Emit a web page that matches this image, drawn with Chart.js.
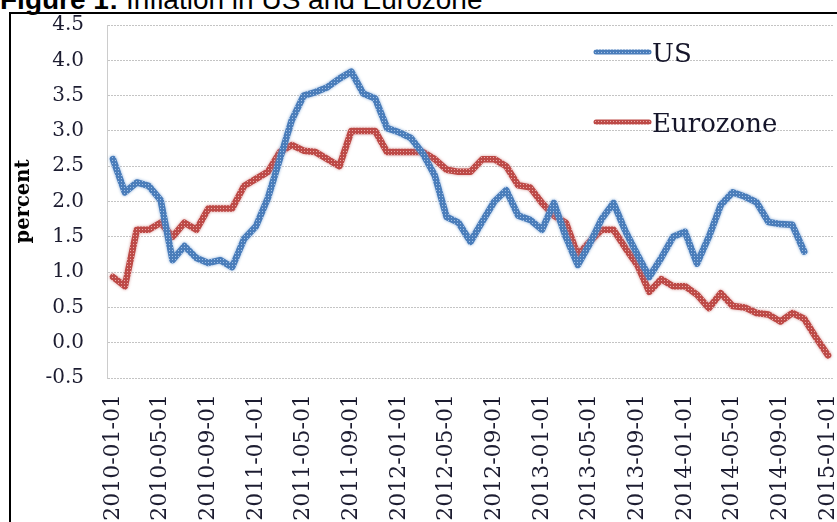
<!DOCTYPE html>
<html>
<head>
<meta charset="utf-8">
<script src="https://cdn.jsdelivr.net/npm/chart.js@4.4.1/dist/chart.umd.min.js"></script>
<style>
html, body { margin: 0; padding: 0; overflow: hidden; background: #fff; width: 837px; height: 522px; }
#title { position: absolute; left: 0; top: -14px; font-family: 'Liberation Sans', Arial, sans-serif; font-size: 28px; line-height: 28px; white-space: nowrap; color: #000; }
#frame { position: absolute; left: 9px; top: 12px; width: 900px; height: 600px; border-left: 2px solid #000; border-top: 2px solid #000; }
#wrap { position: absolute; left: 0; top: 0; width: 837px; height: 560px; }
</style>
</head>
<body>
<div id="title"><b>Figure 1:</b> Inflation in US and Eurozone</div>
<div id="frame"></div>
<div id="wrap"><canvas id="inflationChart"></canvas></div>
<script>
// months, 2010-01 .. 2015-01
const months = [
  '2010-01-01','2010-02-01','2010-03-01','2010-04-01','2010-05-01','2010-06-01','2010-07-01','2010-08-01','2010-09-01','2010-10-01','2010-11-01','2010-12-01',
  '2011-01-01','2011-02-01','2011-03-01','2011-04-01','2011-05-01','2011-06-01','2011-07-01','2011-08-01','2011-09-01','2011-10-01','2011-11-01','2011-12-01',
  '2012-01-01','2012-02-01','2012-03-01','2012-04-01','2012-05-01','2012-06-01','2012-07-01','2012-08-01','2012-09-01','2012-10-01','2012-11-01','2012-12-01',
  '2013-01-01','2013-02-01','2013-03-01','2013-04-01','2013-05-01','2013-06-01','2013-07-01','2013-08-01','2013-09-01','2013-10-01','2013-11-01','2013-12-01',
  '2014-01-01','2014-02-01','2014-03-01','2014-04-01','2014-05-01','2014-06-01','2014-07-01','2014-08-01','2014-09-01','2014-10-01','2014-11-01','2014-12-01',
  '2015-01-01'
];

// labels that are printed on the x axis
const shownLabels = [
  '2010-01-01','2010-05-01','2010-09-01','2011-01-01','2011-05-01','2011-09-01','2012-01-01','2012-05-01',
  '2012-09-01','2013-01-01','2013-05-01','2013-09-01','2014-01-01','2014-05-01','2014-09-01','2015-01-01'
];

const usValues = [
  2.6, 2.13, 2.27, 2.22, 2.02, 1.17, 1.37, 1.2, 1.13, 1.17, 1.07, 1.47,
  1.65, 2.05, 2.6, 3.15, 3.5, 3.55, 3.62, 3.74, 3.84, 3.53, 3.46, 3.04,
  2.98, 2.9, 2.68, 2.37, 1.78, 1.7, 1.43, 1.72, 2.0, 2.16, 1.8, 1.74,
  1.6, 1.98, 1.5, 1.1, 1.4, 1.75, 1.98, 1.58, 1.25, 0.93, 1.2, 1.5,
  1.57, 1.12, 1.5, 1.95, 2.13, 2.07, 1.99, 1.71, 1.68, 1.67, 1.29, null,
  null
];

const euroValues = [
  0.93, 0.8, 1.6, 1.6, 1.7, 1.5, 1.7, 1.6, 1.9, 1.9, 1.9, 2.22,
  2.32, 2.42, 2.7, 2.8, 2.72, 2.7, 2.6, 2.5, 3.0, 3.0, 3.0, 2.7,
  2.7, 2.7, 2.7, 2.6, 2.45, 2.42, 2.42, 2.6, 2.6, 2.5, 2.23, 2.2,
  1.98, 1.8, 1.7, 1.24, 1.43, 1.6, 1.6, 1.34, 1.1, 0.72, 0.9, 0.8,
  0.8, 0.68, 0.49, 0.7, 0.52, 0.5, 0.42, 0.4, 0.3, 0.42, 0.34, 0.07,
  -0.18
];

const yTicks = [-0.5, 0, 0.5, 1, 1.5, 2, 2.5, 3, 3.5, 4, 4.5];

// excel style textured line
function texture(base, dot) {
  const c = document.createElement('canvas');
  c.width = 3; c.height = 3;
  const g = c.getContext('2d');
  g.fillStyle = base; g.fillRect(0, 0, 3, 3);
  g.fillStyle = dot; g.fillRect(1, 1, 1, 1);
  return g.createPattern(c, 'repeat');
}
const bluePattern = texture('#4a7dba', '#a3c1e6');
const redPattern = texture('#bd4a47', '#e8aaa8');
const haloColors = ['rgba(120,160,210,0.8)', 'rgba(200,120,118,0.7)'];

const halo = {
  id: 'halo',
  beforeDatasetDraw(chart, args) {
    chart.ctx.save();
    chart.ctx.shadowColor = haloColors[args.index];
    chart.ctx.shadowBlur = 3;
  },
  afterDatasetDraw(chart) {
    chart.ctx.restore();
  }
};

// legend drawn inside the plot, top right
const innerLegend = {
  id: 'innerLegend',
  afterDraw(chart) {
    const ctx = chart.ctx;
    const rows = [{ y: 52, ty: 62 }, { y: 122, ty: 132 }];
    chart.data.datasets.forEach((ds, i) => {
      ctx.save();
      ctx.strokeStyle = ds.borderColor;
      ctx.lineWidth = 5;
      ctx.lineCap = 'round';
      ctx.beginPath();
      ctx.moveTo(596, rows[i].y);
      ctx.lineTo(649, rows[i].y);
      ctx.stroke();
      ctx.fillStyle = '#15152a';
      ctx.font = '26px "DejaVu Serif"';
      ctx.textBaseline = 'alphabetic';
      ctx.fillText(ds.label, 652, rows[i].ty);
      ctx.restore();
    });
  }
};

const ctx = document.getElementById('inflationChart').getContext('2d');
new Chart(ctx, {
  type: 'line',
  data: {
    labels: months,
    datasets: [
      { label: 'US', data: usValues, borderColor: bluePattern, borderWidth: 6.5, pointRadius: 0, tension: 0, borderJoinStyle: 'round', borderCapStyle: 'round' },
      { label: 'Eurozone', data: euroValues, borderColor: redPattern, borderWidth: 6.5, pointRadius: 0, tension: 0, borderJoinStyle: 'round', borderCapStyle: 'round' }
    ]
  },
  plugins: [halo, innerLegend],
  options: {
    responsive: true,
    maintainAspectRatio: false,
    animation: false,
    layout: { padding: { top: 25, right: 3, left: 0, bottom: 0 } },
    plugins: {
      legend: { display: false },
      tooltip: { enabled: false }
    },
    scales: {
      x: {
        offset: true,
        grid: { display: false },
        border: { display: false },
        ticks: {
          autoSkip: false,
          minRotation: 90,
          maxRotation: 90,
          padding: 8,
          color: '#1c1c30',
          font: { family: 'DejaVu Serif', size: 22 },
          callback: function(value, index) {
            return shownLabels.includes(months[index]) ? months[index] : '';
          }
        },
        afterFit: function(scale) {
          scale.height = 182;
          scale.paddingLeft = 0;
          scale.paddingRight = 0;
        }
      },
      y: {
        min: -0.5,
        max: 4.5,
        afterBuildTicks: function(scale) {
          scale.ticks = yTicks.map(v => ({ value: v }));
        },
        grid: { color: '#c4c4c4', drawTicks: false },
        border: { display: true, color: '#cccccc', dash: [2, 1] },
        ticks: {
          padding: 23,
          color: '#1c1c30',
          font: { family: 'DejaVu Serif', size: 20 },
          callback: function(value) { return value.toFixed(1); }
        },
        title: {
          display: true,
          text: 'percent',
          color: '#000',
          font: { family: 'DejaVu Serif', size: 19.5, weight: 'bold' },
          padding: { top: 12, bottom: 0 }
        },
        afterFit: function(scale) {
          scale.width = 107;
          scale.paddingTop = 0;
          scale.paddingBottom = 0;
        }
      }
    }
  }
});
</script>
</body>
</html>
